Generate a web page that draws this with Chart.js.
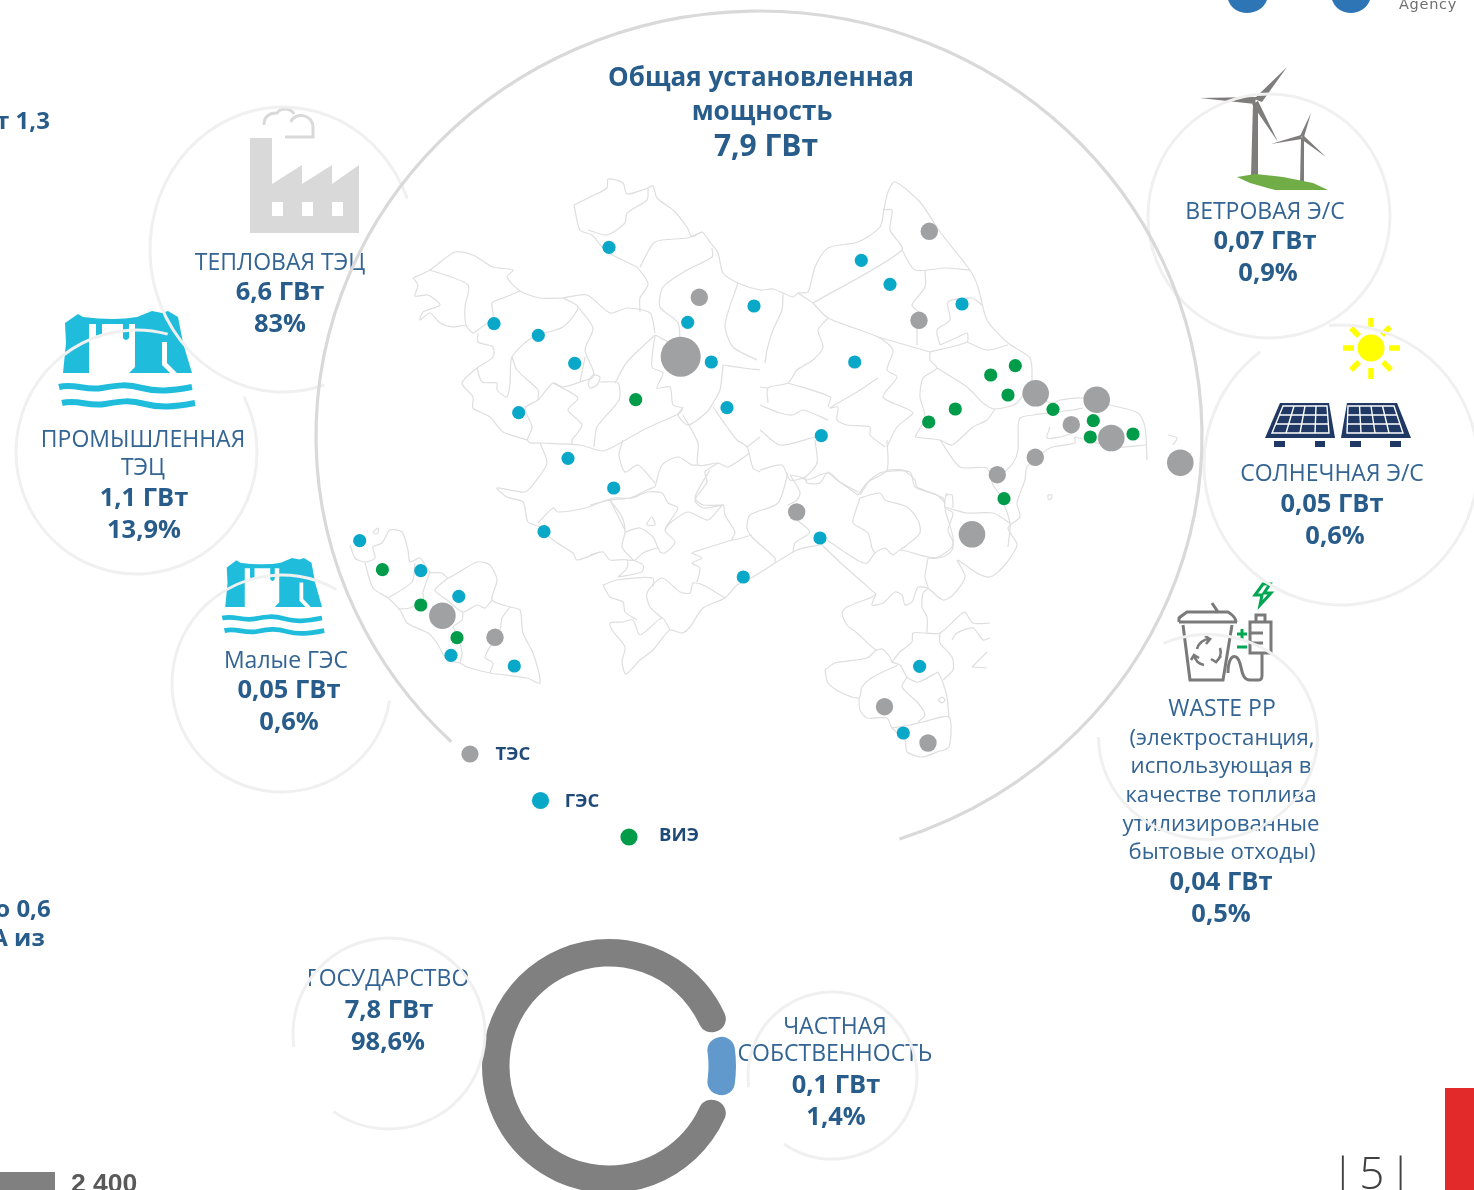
<!DOCTYPE html>
<html lang="ru">
<head>
<meta charset="utf-8">
<title>Общая установленная мощность</title>
<script src="https://cdn.jsdelivr.net/npm/chart.js@4"></script>
<style>
html, body { margin: 0; padding: 0; background: #fff; overflow: hidden; width: 1474px; height: 1190px; }
#page { position: relative; width: 1474px; height: 1190px; overflow: hidden; font-family: "Open Sans", sans-serif; color: #2f6190; }
#icons, #labels, #mapChart, #ringBox { position: absolute; left: 0; top: 0; }
#icons { z-index: 1; }
#ringBox { z-index: 1; left: 482px; top: 939px; width: 254px; height: 254px; }
#labels { z-index: 2; width: 1474px; height: 1190px; }
#mapChart { z-index: 3; }
.t { position: absolute; white-space: nowrap; transform: translate(-50%, -50%); line-height: 1; }
.name { font-size: 23px; font-weight: 400; color: #336493; }
.small { font-size: 22.2px; font-weight: 400; color: #336493; }
.num { font-size: 25.5px; font-weight: 700; color: #285c8a; }
.head { font-size: 26px; font-weight: 700; color: #285c8a; }
.big { font-size: 30px; font-weight: 700; color: #285c8a; }
.leg { font-size: 18.5px; font-weight: 700; color: #1f4a78; }
.cut { font-size: 24px; font-weight: 700; color: #285c8a; }
</style>
</head>
<body>
<div id="page">
<svg id="icons" width="1474" height="1190" xmlns="http://www.w3.org/2000/svg">
  <!-- factory -->
  <g fill="#d9d9d9">
    <path d="M250 138H272V184L302 165V184L332 165V184L359 165V233H250Z"/>
    <g fill="#fff"><rect x="272" y="202" width="11" height="14"/><rect x="302" y="202" width="11" height="14"/><rect x="332" y="202" width="11" height="14"/></g>
  </g>
  <path d="M264 125C264 116 270 113 277 113C281 107 291 108 294 114M291 122C294 112 313 113 313 128V137H285" fill="none" stroke="#d9d9d9" stroke-width="3"/>
  <!-- hydro -->
  <g id="hydro" fill="#1fbcdc">
    <path d="M65 323L78 314L83 317Q98 319 113 319Q126 319 137 317L152 311L162 313L168 311L178 317L183 343L192 373L177 373L167 363V342H162V365L170 373H129L135 367V324H129V338Q126 342 123 338V324H102V335Q99 340 96 335V324H89V373L63 373L66 343Z"/>
    <path d="M59 387C75 383 85 391 102 388S127 384 142 388S170 391 192 387" fill="none" stroke="#1fbcdc" stroke-width="6"/>
    <path d="M62 403C78 399 88 407 105 404S130 400 145 404S173 407 195 403" fill="none" stroke="#1fbcdc" stroke-width="6"/>
  </g>
  <use href="#hydro" transform="translate(178 312.3) scale(.75 .79)"/>
  <!-- wind -->
  <g fill="#7f7c7c">
    <path d="M1253 103H1258V176H1251Z"/>
    <path d="M1254 99L1287 67L1262 102Z"/><path d="M1256 97L1200 98L1255 104Z"/><path d="M1252 104L1258 101L1278 142Z"/>
    <path d="M1301 138H1304V183H1300Z"/>
    <path d="M1300 136L1311 113L1304 137Z"/><path d="M1301 135L1271 144L1302 139Z"/><path d="M1303 135L1326 157L1301 139Z"/>
  </g>
  <path d="M1237 177L1255 174L1283 177L1313 183L1328 190H1275L1250 183Z" fill="#70ad47"/>
  <!-- sun -->
  <circle cx="1371" cy="348" r="13.5" fill="#ffff00"/>
  <path d="M1371 318V327M1371 368V379M1343 348H1354M1389 348H1400M1351 328L1359 336M1390 327L1382 335M1351 370L1359 362M1391 370L1383 362" stroke="#ffff00" stroke-width="5.5" fill="none"/>
  <!-- solar -->
  <g fill="#1f3864">
    <path d="M1280 403H1329L1335 438H1265Z"/><path d="M1347 403H1397L1411 438H1341Z"/>
    <rect x="1274" y="441" width="11" height="6"/><rect x="1315" y="441" width="10" height="6"/><rect x="1350" y="441" width="11" height="6"/><rect x="1390" y="441" width="11" height="6"/>
  </g>
  <path d="M1283 406H1327L1329 433H1272ZM1294 406L1286 433M1305 406L1300 433M1316 406L1315 433M1279 415H1328M1276 424H1329M1348 406H1394L1403 433H1347ZM1359.5 406L1361 433M1371 406L1375 433M1382.5 406L1389 433M1348 415H1397M1348 424H1400" fill="none" stroke="#fff" stroke-width="1.4"/>
  <!-- waste -->
  <g fill="none" stroke="#7a7a7a" stroke-width="3">
    <path d="M1179 622H1237M1179 622V618Q1180 617 1187 612H1228Q1236 617 1236 622M1212 603L1218 612M1183 625L1190 680H1223L1232 625"/>
    <path d="M1197 649A13 13 0 0 1 1210 639M1205 636L1210 639L1206 644M1220 648A13 13 0 0 1 1216 662M1221 656L1216 662L1211 659M1204 665A13 13 0 0 1 1194 655M1191 660L1194 655L1199 658" stroke-width="2.6"/>
    <path d="M1228 673C1228 660 1232 655 1236 657C1243 660 1239 680 1250 680H1259Q1262 680 1262 675V653"/>
    <path d="M1250 622H1271V653H1250ZM1256 622V615H1265V622M1250 633H1263M1250 643H1263"/>
  </g>
  <path d="M1242 629V639M1237 634H1247M1237 647H1247" stroke="#00a651" stroke-width="3" fill="none"/>
  <path d="M1263 584L1255 595H1262L1260 605L1271 593H1264L1270 584Z" fill="none" stroke="#00a651" stroke-width="3"/>
  <!-- corner bits -->
  <path d="M1228 0H1267C1264 8 1256 13 1247 13C1238 13 1231 8 1228 0Z" fill="#2e75b6"/>
  <path d="M1332 0H1370C1367 8 1359 13 1351 13C1342 13 1335 8 1332 0Z" fill="#2e75b6"/>
  <rect x="0" y="1172" width="55" height="18" fill="#808080"/>
  <rect x="1445" y="1088" width="29" height="102" fill="#e22a2a"/>
</svg>
<div id="labels"></div>
<div id="ringBox"><canvas id="ownerChart" width="254" height="254"></canvas></div>
<canvas id="mapChart" width="1474" height="1190"></canvas>
</div>
<script>
// stations on the map (x, y in picture units)
const tesX = [680.7, 699.3, 929.3, 919, 1035.7, 1096.7, 1071.3, 1111.3, 1180.3, 1035.3, 997.3, 972, 796.7, 442.4, 495, 884.5, 928];
const tesY = [356.7, 297.3, 231.3, 320.3, 393.3, 399.7, 424.7, 438, 462.7, 457.3, 474.7, 534.3, 512, 615.7, 637.3, 706.7, 743];
const tesClass = [3, 1, 1, 1, 2, 2, 1, 2, 2, 1, 1, 2, 1, 2, 1, 1, 1];

const gesX = [609, 494, 538.3, 574.7, 518.7, 568, 613.7, 544, 359.7, 420.8, 458.8, 451, 514.3, 743.3, 687.7, 711.3, 727, 754, 861.3, 890, 962, 854.7, 821.3, 820, 919.6, 903.3];
const gesY = [247.3, 323.7, 335.3, 363.3, 412.7, 458.3, 488, 531.7, 540.7, 570.7, 596.3, 655.3, 666, 577, 322.3, 362, 407.7, 306, 260.3, 284.3, 304, 362, 435.7, 538, 666.3, 733];

const vieX = [635.7, 1015.3, 990.7, 1008, 1053, 955.3, 928.7, 1093.3, 1090.3, 1133, 1004, 382.4, 420.8, 457];
const vieY = [399.7, 365.7, 375, 395, 409.3, 409, 422, 420.7, 437, 434, 498.7, 569.7, 605, 637.7];

const legendX = [470, 540.5, 629];
const legendY = [754, 800.5, 837];
const legendNames = ['ТЭС', 'ГЭС', 'ВИЭ'];

// ring: share of the arc as drawn in the picture, its caption gives 98,6% / 1,4%
const ownerNames = ['ГОСУДАРСТВО', 'ЧАСТНАЯ СОБСТВЕННОСТЬ'];
const ownerArc = [91.7, 8.3];

// region borders
const mapBorders = [
  [[574,205],[588,198],[607,188],[608,179],[623,183],[627,194],[648,188],[653,186],[657,198],[673,210],[687,227],[692,237],[702,232],[710,242],[718,253],[723,273],[738,283],[760,290],[773,289],[783,293],[793,297],[798,293],[808,292],[815,267],[828,248],[858,242],[880,227],[884,209],[888,192],[895,182],[920,202],[940,232],[970,270],[978,287],[987,320],[1008,343],[1030,358],[1032,380],[1030,395],[1053,403],[1060,400],[1083,398],[1110,405],[1138,413],[1145,427],[1147,460]],
  [[1147,445],[1113,447],[1075,437],[1075,443],[1050,448],[1027,467],[1025,480],[1017,503],[1020,517],[1008,528],[1017,545],[1003,567],[990,577],[977,573],[958,560]],
  [[1018,427],[1020,418],[1033,415],[1073,410],[1083,408]],
  [[1018,427],[1018,450],[1013,463],[1000,477]],
  [[1050,427],[1047,438],[1060,437],[1073,433]],
  [[1168,435],[1177,438],[1173,445]],
  [[1048,495],[1052,495],[1051,499],[1048,499],[1048,495]],
  [[876,594],[872,597],[847,607],[842,613],[847,625],[857,633],[876,650],[882,649],[890,657],[892,662],[900,665],[907,677],[918,682],[938,672]],
  [[825,670],[835,663],[867,658],[876,650]],
  [[825,670],[828,683],[840,692],[859,698],[862,687],[873,677],[898,665]],
  [[859,698],[860,710],[867,718],[887,718],[892,728],[905,740],[907,752],[922,757],[937,752],[949,747],[949,717],[923,722],[910,725],[892,728]],
  [[949,717],[947,697],[943,683],[938,672]],
  [[907,677],[902,687],[918,703],[925,715],[918,722]],
  [[892,662],[900,652],[912,642],[913,633],[925,633],[940,633],[960,615],[965,612],[973,623],[990,623]],
  [[940,633],[940,643],[952,657],[953,670],[943,680]],
  [[952,640],[957,633],[973,628],[983,640],[990,638]],
  [[972,667],[987,652]],[[972,667],[987,668]],
  [[938,700],[942,697],[945,700],[942,703],[938,700]],
  [[927,633],[927,617],[922,607],[923,593],[928,588],[925,577],[928,558]],
  [[928,588],[943,600],[953,595],[965,577],[957,560]],
  [[876,594],[872,605],[883,603],[895,592],[902,595],[905,605],[912,602],[918,587],[928,588]],
  [[820,543],[843,565],[876,594]],
  [[827,540],[857,560],[867,563],[875,553],[885,548],[893,555],[900,550],[928,557],[943,557],[952,550],[953,542],[948,530],[953,513],[945,508],[945,500],[947,493]],
  [[860,498],[880,493],[885,500],[907,507],[918,520],[920,533],[907,545],[900,550]],
  [[860,498],[855,513],[853,523],[868,533],[872,548],[875,553]],
  [[860,495],[870,480],[883,472],[910,472],[915,487],[937,495],[945,503]],
  [[858,495],[837,480],[827,473],[807,480],[800,477],[790,475]],
  [[790,475],[800,492],[797,500],[788,505]],
  [[788,473],[778,503],[750,515],[747,528],[752,537],[775,558],[775,563]],
  [[797,520],[810,532],[795,543],[793,552]],
  [[820,545],[797,550],[753,577],[737,585],[725,598],[703,608],[690,627],[682,633],[670,630],[653,650],[640,660],[626,674],[622,662],[625,647],[612,630],[610,623],[623,622],[633,620],[640,635],[662,618],[670,630]],
  [[662,618],[650,607],[647,593],[662,578],[680,592],[690,593],[693,583],[703,585],[725,598]],
  [[603,585],[617,580],[653,578],[653,587]],
  [[603,585],[610,597],[623,602],[625,612],[637,620]],
  [[590,555],[603,552],[610,560],[627,560],[627,568],[618,577]],
  [[627,560],[635,560],[643,553],[658,548],[660,552],[665,553],[675,542],[665,530],[678,508],[668,503],[662,493],[647,492],[632,498],[610,500],[590,505]],
  [[610,500],[622,517],[625,532],[622,547],[633,560]],
  [[625,532],[640,528],[653,537],[658,548]],
  [[665,530],[670,523],[688,512],[708,520],[723,505],[725,515],[735,532],[732,540],[752,535]],
  [[732,540],[700,550],[692,553],[702,558],[692,563],[700,568],[697,582]],
  [[723,505],[703,505],[695,498],[702,483],[710,470]],
  [[633,560],[643,565],[642,572],[618,577]],
  [[647,523],[652,517],[655,525],[647,525],[647,523]],
  [[563,298],[587,295],[610,313],[627,308],[650,313],[655,333]],
  [[413,278],[430,270],[455,252],[473,255],[493,267],[513,270],[507,277],[520,291],[540,298],[563,298]],
  [[520,291],[503,298],[492,303],[493,317],[478,330],[473,333],[466,325],[465,307],[468,285],[430,270]],
  [[466,325],[453,327],[440,323],[430,313],[420,320],[423,312],[440,305],[428,295],[415,296],[418,285],[413,278]],
  [[478,333],[478,342],[493,347],[493,357],[477,368],[462,383],[473,397],[473,408],[490,417],[503,432],[527,440],[530,443],[540,443],[580,445],[603,451],[620,443],[647,428],[680,413],[683,407]],
  [[477,368],[482,382],[497,383],[497,390],[507,397],[510,383],[512,357],[533,337],[563,327],[578,307],[563,298]],
  [[578,307],[593,328],[585,350],[593,370],[593,377],[580,382],[563,387],[553,383],[538,400],[525,408],[532,427],[527,440]],
  [[553,383],[578,398],[568,410],[582,425],[572,440],[572,445]],
  [[512,357],[517,370],[538,390],[538,400]],
  [[580,382],[585,357]],
  [[588,383],[593,375],[600,377],[597,385],[590,388],[588,383]],
  [[600,382],[618,383],[619,400],[597,427],[594,447]],
  [[615,383],[627,362],[655,335]],
  [[655,335],[652,367],[663,373],[657,388],[670,387],[673,405],[682,408],[678,415],[688,425],[707,412],[713,403],[720,390],[723,365]],
  [[655,335],[678,345],[678,323],[660,307],[663,287],[687,270],[712,257],[712,248]],
  [[702,232],[687,238],[655,242],[640,267]],
  [[637,267],[645,277],[648,285],[640,298],[640,312]],
  [[608,253],[637,267]],
  [[574,205],[580,230],[592,235],[602,247],[608,253]],
  [[588,230],[607,235],[625,223],[627,213],[647,200],[648,188]],
  [[738,283],[725,325],[733,347],[757,360]],
  [[723,365],[743,368],[760,370]],
  [[713,407],[727,427],[737,440],[747,447],[753,468],[760,472]],
  [[747,447],[760,437]],
  [[683,415],[698,443],[698,465],[718,463],[728,467],[750,453]],
  [[623,440],[619,455],[625,472],[638,465],[655,483]],
  [[655,487],[662,465],[678,457],[692,465],[698,465]],
  [[718,463],[705,472],[707,482],[695,500],[703,508],[723,505]],
  [[540,443],[547,463],[535,482],[525,492],[497,488],[507,497],[523,502],[528,522],[540,527],[553,540],[573,553],[577,560],[600,552]],
  [[538,523],[553,508],[558,512],[585,508],[613,498],[630,498],[647,490],[655,487]],
  [[610,500],[625,530]],
  [[813,303],[902,250],[890,230],[892,210],[883,210]],
  [[902,250],[915,270],[945,268],[970,270]],
  [[813,303],[798,293]],
  [[813,303],[828,318],[878,337],[893,350],[887,370],[897,377],[883,397],[905,408],[913,413],[897,427],[887,447]],
  [[828,318],[818,330],[823,347],[813,360],[797,370],[788,383],[768,388],[768,403]],
  [[788,383],[830,397],[828,407]],
  [[878,378],[857,392],[830,408],[838,407],[837,420],[847,425],[870,427],[870,435],[885,447]],
  [[878,337],[930,352]],
  [[917,330],[917,345]],
  [[925,270],[925,287],[912,305],[919,313],[917,330]],
  [[940,345],[937,330],[950,320],[948,302],[972,298],[982,305]],
  [[930,352],[967,342],[967,333],[958,337],[940,345]],
  [[967,342],[987,350],[1008,345]],
  [[930,352],[930,360],[937,368],[923,378],[920,397],[925,417],[915,437]],
  [[937,368],[967,387],[983,403],[995,409],[1017,403],[1032,380]],
  [[995,409],[987,420],[973,427],[952,445],[940,440],[923,438],[915,437]],
  [[940,440],[960,467],[987,468],[993,485],[1000,495],[1010,523],[1008,547]],
  [[887,440],[887,470],[868,482],[858,495]],
  [[887,470],[903,470],[915,480],[917,487],[943,498],[945,507]],
  [[945,507],[967,513],[993,513],[1010,523]],
  [[945,495],[952,495],[953,508]],
  [[945,510],[953,537],[952,547],[937,558],[928,558]],
  [[815,440],[817,463],[805,477],[790,480],[782,465],[760,470]],
  [[805,477],[807,483],[820,483],[828,472],[840,482],[858,492]],
  [[815,437],[780,445],[760,430]],
  [[760,405],[780,413],[793,415],[803,410],[828,420]],
  [[783,293],[782,310],[773,330],[767,350],[765,363]],
  [[760,387],[768,388]],
  [[350,545],[355,558],[365,562],[375,558],[373,547],[382,543],[390,530],[402,532],[408,550],[410,562],[420,558],[430,572],[442,573],[448,578],[477,562],[490,565],[497,580],[492,600],[510,607],[520,610],[523,633],[533,653],[540,683],[527,678],[490,673],[467,667],[460,663],[447,660],[437,643],[428,633],[407,623],[400,610],[388,598],[373,588],[365,563]],
  [[430,572],[423,592],[423,600],[410,608],[398,609]],
  [[388,598],[412,582],[415,563]],
  [[448,578],[435,590],[447,600],[463,612],[477,605],[485,608],[492,600]],
  [[463,612],[462,620],[453,627],[457,633],[462,653],[460,663]],
  [[510,607],[502,618],[500,630],[485,657],[493,663],[490,673]],
  [[373,532],[378,528],[378,533],[375,534],[373,532]]
];

// caption lines: text, centre x, centre y, style
const captions = [
  ['Общая установленная', 761, 76, 'head'], ['мощность', 762, 110, 'head'], ['7,9 ГВт', 766, 145, 'big'],
  ['ТЕПЛОВАЯ ТЭЦ', 280, 261, 'name'], ['6,6 ГВт', 280, 291, 'num'], ['83%', 280, 323, 'num'],
  ['ПРОМЫШЛЕННАЯ', 143, 438, 'name'], ['ТЭЦ', 143, 466, 'name'], ['1,1 ГВт', 144, 497, 'num'], ['13,9%', 144, 529, 'num'],
  ['Малые ГЭС', 286, 659, 'name'], ['0,05 ГВт', 289, 689, 'num'], ['0,6%', 289, 721, 'num'],
  ['ВЕТРОВАЯ Э/С', 1265, 210, 'name'], ['0,07 ГВт', 1265, 240, 'num'], ['0,9%', 1268, 272, 'num'],
  ['СОЛНЕЧНАЯ Э/С', 1332, 472, 'name'], ['0,05 ГВт', 1332, 503, 'num'], ['0,6%', 1335, 535, 'num'],
  ['WASTE PP', 1222, 707, 'name'], ['(электростанция,', 1222, 737, 'small'], ['использующая в', 1221, 765, 'small'],
  ['качестве топлива', 1221, 794, 'small'], ['утилизированные', 1221, 823, 'small'], ['бытовые отходы)', 1222, 851, 'small'],
  ['0,04 ГВт', 1221, 881, 'num'], ['0,5%', 1221, 913, 'num'],
  ['ГОСУДАРСТВО', 388, 977, 'name'], ['7,8 ГВт', 389, 1009, 'num'], ['98,6%', 388, 1041, 'num'],
  ['ЧАСТНАЯ', 835, 1025, 'name'], ['СОБСТВЕННОСТЬ', 835, 1052, 'name'], ['0,1 ГВт', 836, 1084, 'num'], ['1,4%', 836, 1116, 'num'],
  [legendNames[0], 513, 753, 'leg'], [legendNames[1], 582, 800, 'leg'], [legendNames[2], 679, 834, 'leg'],
  ['т 1,3', 23, 120, 'cut'], ['о 0,6', 23, 908, 'cut'], ['А из', 18, 937, 'cut']
];

// thin circles: cx, cy, rx, ry, start and end angle in degrees
const thinRings = [
  [283, 249.5, 133, 142.5, 72, 339],
  [136.5, 452, 120.5, 122, -27, 285],
  [281.5, 683.5, 109.5, 108.5, 9, 300],
  [1269, 216, 121, 122, 0, 360],
  [1341, 465, 137, 140, -95, 234],
  [1208, 737, 109.5, 102.5, -114, 180],
  [389, 1033.5, 96, 95.5, 172, 485],
  [832.5, 1075.5, 84.5, 83.5, 172, 485]
];

const labelBox = document.getElementById('labels');
captions.forEach(function (c) {
  const d = document.createElement('div');
  d.className = 't ' + c[3];
  d.textContent = c[0];
  d.style.left = c[1] + 'px';
  d.style.top = c[2] + 'px';
  labelBox.appendChild(d);
});

function addExtra(text, left, top, css) {
  const d = document.createElement('div');
  d.style.cssText = 'position:absolute;white-space:nowrap;line-height:1;left:' + left + 'px;top:' + top + 'px;' + css;
  d.textContent = text;
  labelBox.appendChild(d);
}
addExtra('2 400', 71, 1168, 'font:700 26.5px "Liberation Sans";color:#595959');
addExtra('| 5 |', 1331, 1142, 'font:300 44px "Open Sans";color:#404040;word-spacing:-7px');
addExtra('Agency', 1399, -4, 'font:400 14.5px "DejaVu Sans";color:#6f6f6f;letter-spacing:.7px');

function toPoints(xs, ys) {
  return xs.map(function (x, i) { return { x: x, y: ys[i] }; });
}

const radiusByClass = { 1: 8.7, 2: 13.3, 3: 20 };

const ringsPlugin = {
  id: 'rings',
  beforeDatasetsDraw: function (chart) {
    const c = chart.ctx;
    const sx = chart.scales.x;
    const sy = chart.scales.y;
    c.save();
    c.strokeStyle = '#f0f0f0';
    c.lineWidth = 3;
    thinRings.forEach(function (r) {
      c.beginPath();
      c.ellipse(sx.getPixelForValue(r[0]), sy.getPixelForValue(r[1]), r[2], r[3], 0, r[4] * Math.PI / 180, r[5] * Math.PI / 180);
      c.stroke();
    });
    // the large circle round the map
    c.strokeStyle = '#d9d9d9';
    c.lineWidth = 3.2;
    c.beginPath();
    c.ellipse(sx.getPixelForValue(759), sy.getPixelForValue(436), 443, 425, 0, 134 * Math.PI / 180, (360 + 71.5) * Math.PI / 180);
    c.stroke();
    c.restore();
  }
};

const mapDatasets = [
  {
    label: 'ТЭС', data: toPoints(tesX, tesY), backgroundColor: '#a0a1a3', borderWidth: 0,
    pointRadius: tesClass.map(function (k) { return radiusByClass[k]; })
  },
  { label: 'ВИЭ', data: toPoints(vieX, vieY), backgroundColor: '#009c4a', borderWidth: 0, pointRadius: 6.6 },
  { label: 'ГЭС', data: toPoints(gesX, gesY), backgroundColor: '#0aa8c8', borderWidth: 0, pointRadius: 6.6 },
  {
    label: 'legend', data: toPoints(legendX, legendY), borderWidth: 0, pointRadius: 8.6,
    backgroundColor: ['#a0a1a3', '#0aa8c8', '#009c4a']
  }
];
mapBorders.forEach(function (line, i) {
  mapDatasets.push({
    label: 'border ' + i,
    data: line.map(function (p) { return { x: p[0], y: p[1] }; }),
    showLine: true, pointRadius: 0, borderColor: '#dedede', borderWidth: 1.2, tension: 0.25
  });
});

new Chart(document.getElementById('mapChart').getContext('2d'), {
  type: 'scatter',
  data: { datasets: mapDatasets },
  options: {
    responsive: false,
    animation: false,
    layout: { padding: 0, autoPadding: false },
    plugins: { legend: { display: false }, tooltip: { enabled: false } },
    scales: {
      x: { type: 'linear', min: 0, max: 1474, display: false },
      y: { type: 'linear', min: 0, max: 1190, reverse: true, display: false }
    }
  },
  plugins: [ringsPlugin]
});

new Chart(document.getElementById('ownerChart').getContext('2d'), {
  type: 'doughnut',
  data: {
    labels: ownerNames,
    datasets: [{ data: ownerArc, backgroundColor: ['#808080', '#6199cd'], borderWidth: 0, borderRadius: 13, spacing: 4 }]
  },
  options: {
    responsive: false,
    animation: false,
    cutout: '78%',
    rotation: 90 + ownerArc[1] * 3.6 / 2,
    layout: { padding: 0 },
    plugins: { legend: { display: false }, tooltip: { enabled: false } }
  }
});
</script>
</body>
</html>
